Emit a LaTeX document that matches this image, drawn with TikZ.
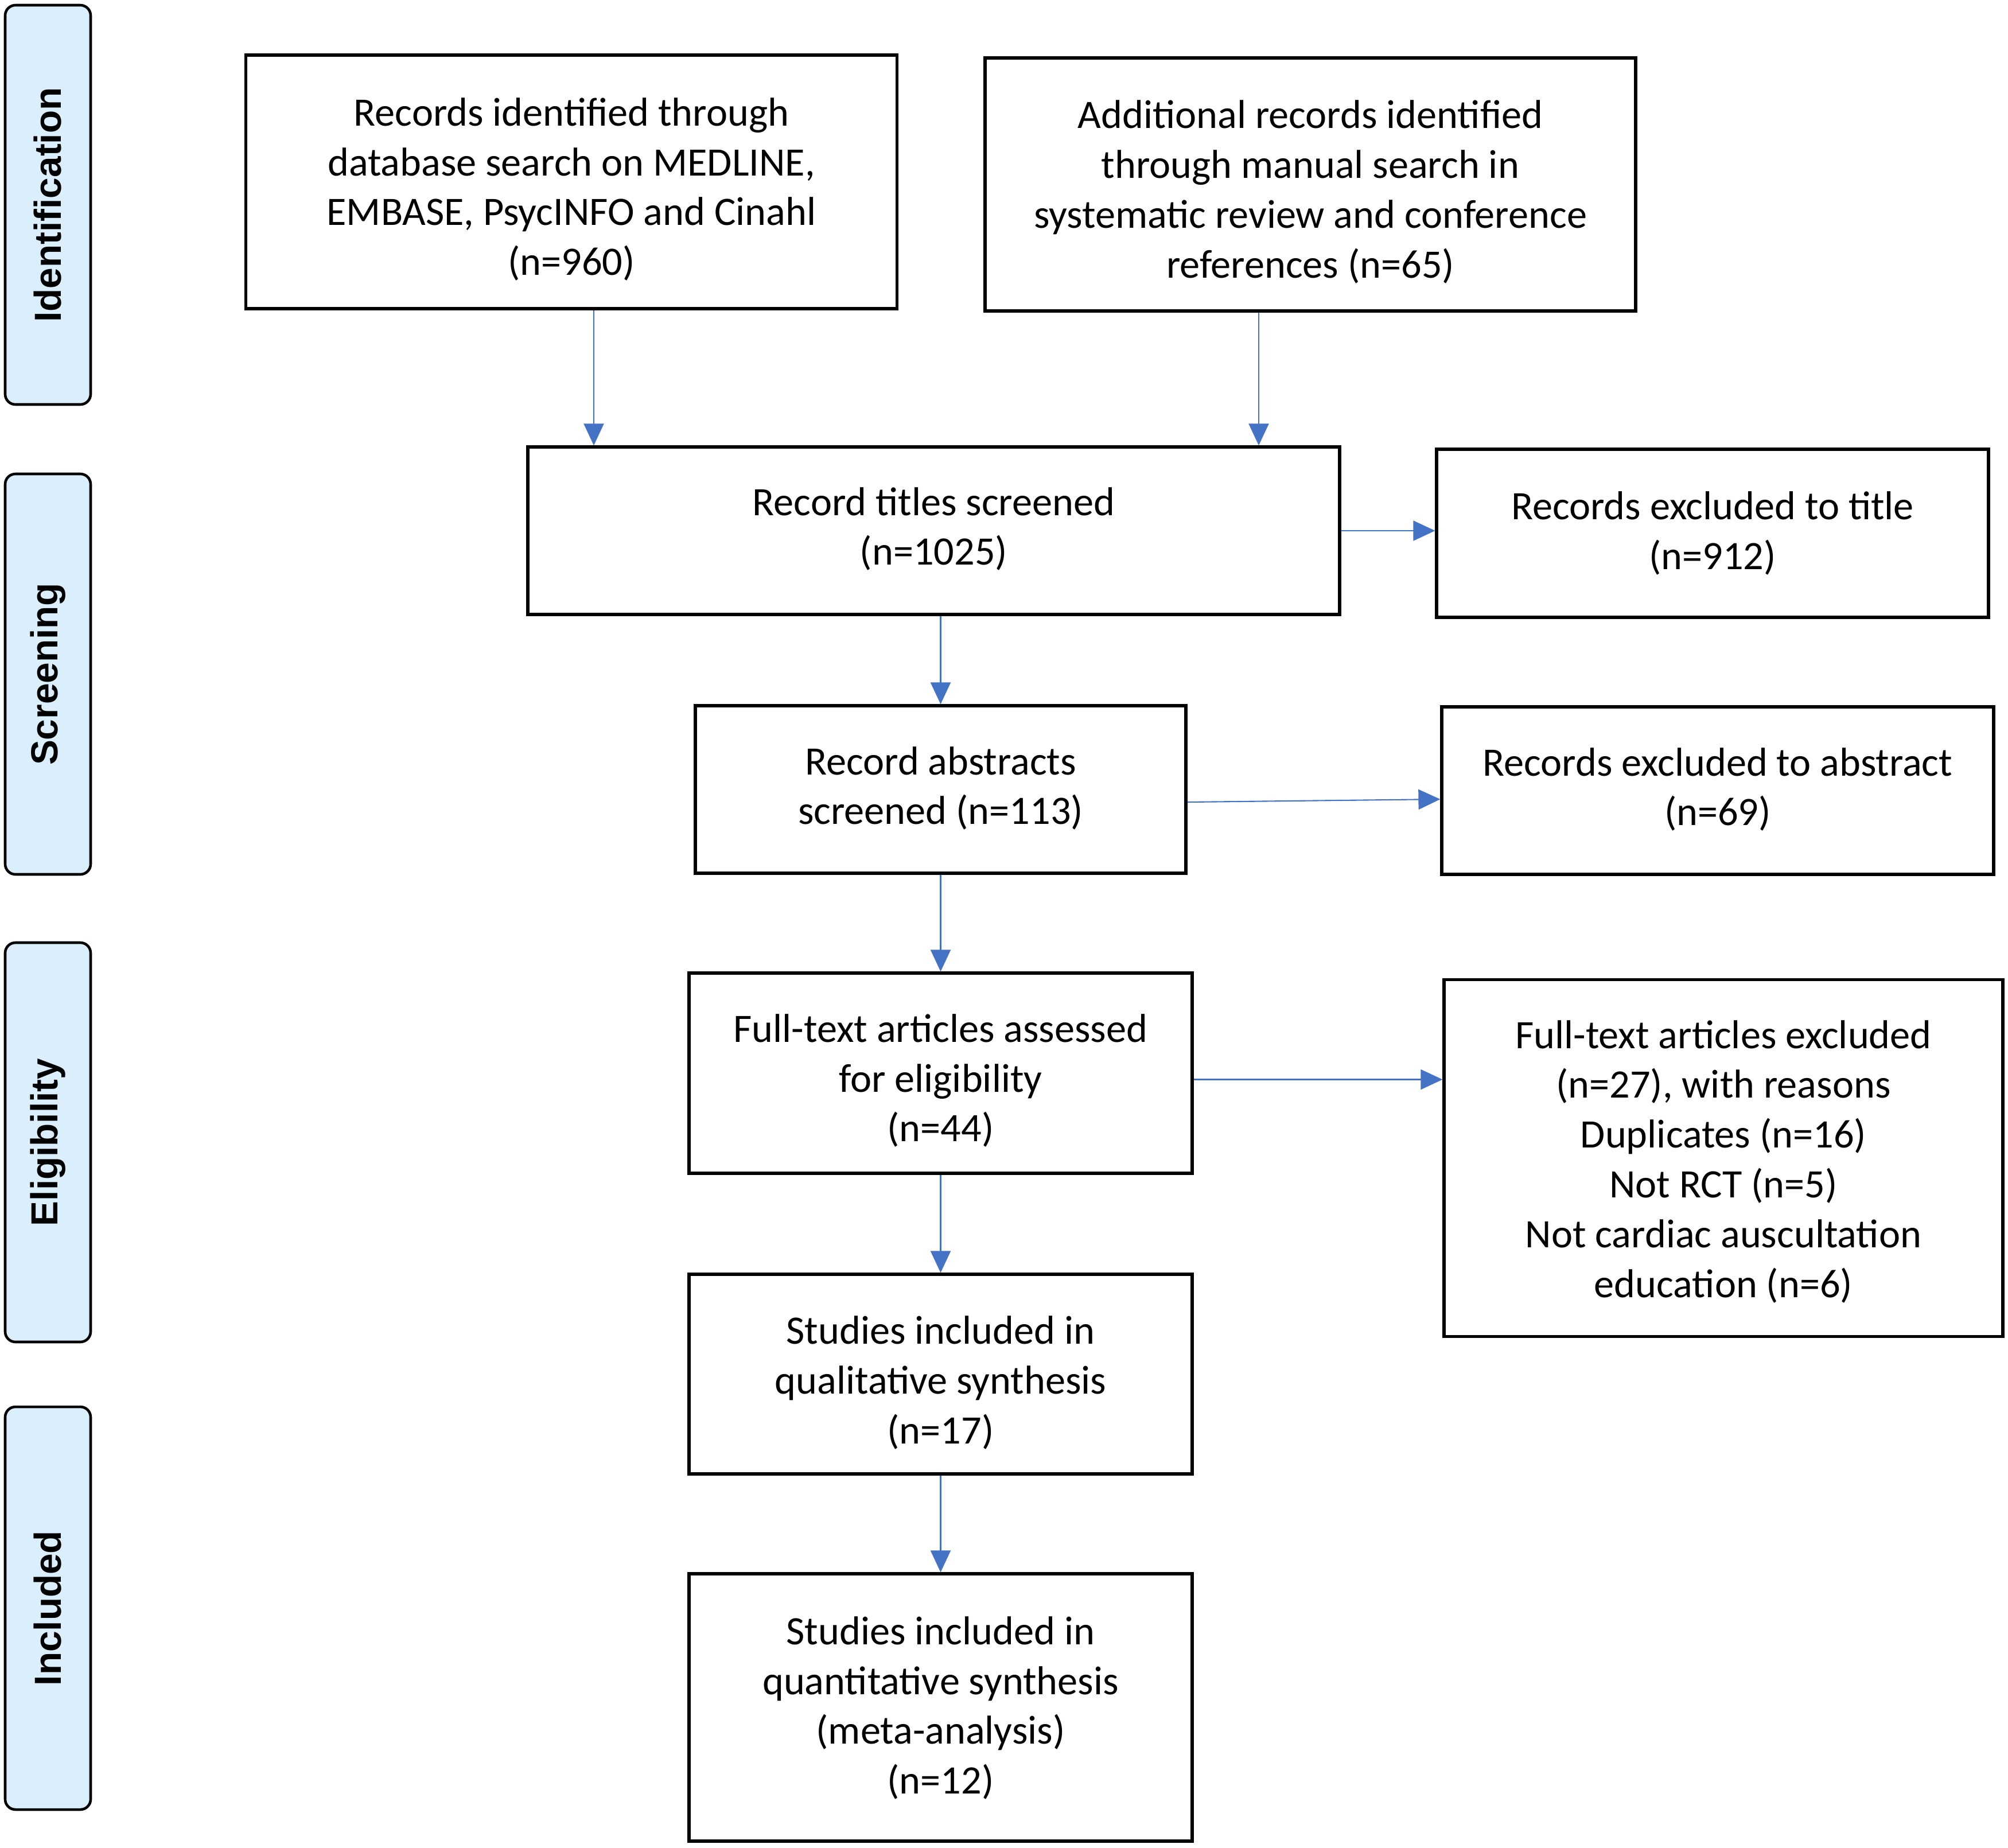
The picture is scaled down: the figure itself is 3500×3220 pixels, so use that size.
\documentclass[tikz,border=0pt]{standalone}
\usepackage{fontspec}
\setmainfont{Carlito}
\newfontfamily\sidefont{Liberation Sans}
\usetikzlibrary{arrows.meta,calc}
\definecolor{arrowblue}{HTML}{4472C4}
\definecolor{sidefill}{HTML}{DAEEFB}
\begin{document}
\begin{tikzpicture}[x=0.1mm,y=-0.1mm,
  box/.style={draw=black, line width=1.5pt, inner sep=0pt},
  boxtext/.style={align=center, inner sep=0pt, font=\fontsize{20pt}{24.7pt}\selectfont},
  sidebox/.style={draw=black, line width=1.3pt, fill=sidefill, rounded corners=1.8mm,
    rotate=90, inner sep=0pt, font=\sidefont\bfseries\fontsize{18.7pt}{22pt}\selectfont},
  flow/.style={draw=arrowblue, line width=0.6pt, -{Triangle[length=3.8mm,width=3.5mm]}}]
\useasboundingbox (0,0) rectangle (3500,3220);
% side labels
\node[sidebox, minimum width=69.6mm, minimum height=14.9mm] (sid) at (83.5,357) {Identification};
\node[sidebox, minimum width=69.8mm, minimum height=14.9mm] (sscr) at (83.5,1175) {Screening};
\node[sidebox, minimum width=69.6mm, minimum height=14.9mm] (selg) at (83.5,1991) {Eligibility};
\node[sidebox, minimum width=70.2mm, minimum height=14.9mm] (sinc) at (83.5,2803) {Included};
% boxes
\node[box, minimum width=113.5mm, minimum height=44.2mm] (A) at (996,317) {};
\node[boxtext] (At) at ($(A.center)+(0,13)$)
  {Records identified through\\database search on MEDLINE,\\EMBASE, PsycINFO and Cinahl\\(n=960)};
\node[box, minimum width=113.4mm, minimum height=44.1mm] (B) at (2284,321.5) {};
\node[boxtext] (Bt) at ($(B.center)+(0,13)$)
  {Additional records identified\\through manual search in\\systematic review and conference\\references (n=65)};
\node[box, minimum width=141.5mm, minimum height=29.2mm] (C) at (1627.5,925) {};
\node[boxtext] (Ct) at ($(C.center)+(0,-3)$) {Record titles screened\\(n=1025)};
\node[box, minimum width=96.2mm, minimum height=29.3mm] (D) at (2985,929.5) {};
\node[boxtext] (Dt) at (D.center) {Records excluded to title\\(n=912)};
\node[box, minimum width=85.5mm, minimum height=29.2mm] (E) at (1639.5,1376) {};
\node[boxtext] (Et) at ($(E.center)+(0,-2)$) {Record abstracts\\screened (n=113)};
\node[box, minimum width=96.2mm, minimum height=29.2mm] (F) at (2994,1378) {};
\node[boxtext] (Ft) at ($(F.center)+(0,-2)$) {Records excluded to abstract\\(n=69)};
\node[box, minimum width=87.7mm, minimum height=34.9mm] (G) at (1639.5,1870.5) {};
\node[boxtext] (Gt) at ($(G.center)+(0,13)$) {Full-text articles assessed\\for eligibility\\(n=44)};
\node[box, minimum width=97.4mm, minimum height=62.2mm] (H) at (3004,2018.5) {};
\node[boxtext] (Ht) at ($(H.center)+(0,6)$)
  {Full-text articles excluded\\(n=27), with reasons\\Duplicates (n=16)\\Not RCT (n=5)\\Not cardiac auscultation\\education (n=6)};
\node[box, minimum width=87.7mm, minimum height=34.8mm] (I) at (1639.5,2395) {};
\node[boxtext] (It) at ($(I.center)+(0,15)$) {Studies included in\\qualitative synthesis\\(n=17)};
\node[box, minimum width=87.7mm, minimum height=46.6mm] (J) at (1639.5,2976) {};
\node[boxtext] (Jt) at ($(J.center)+(0,1)$)
  {Studies included in\\quantitative synthesis\\(meta-analysis)\\(n=12)};
% connector anchors
\coordinate (a1) at ($(A.south)+(39,0)$);
\coordinate (b1) at ($(B.south)+(-90,0)$);
\coordinate (e1) at ($(E.east)+(0,22)$);
\coordinate (f1) at ($(F.west)+(0,15)$);
\coordinate (g1) at ($(G.east)+(0,11)$);
% connectors
\draw[flow] (a1) -- (a1 |- C.north);
\draw[flow] (b1) -- (b1 |- C.north);
\draw[flow] (E.north |- C.south) -- (E.north);
\draw[flow] (C.east) -- (C.east -| D.west);
\draw[flow] (e1) -- (f1);
\draw[flow] (G.north |- E.south) -- (G.north);
\draw[flow] (g1) -- (g1 -| H.west);
\draw[flow] (G.south) -- (I.north);
\draw[flow] (I.south) -- (J.north);
\end{tikzpicture}
\end{document}
